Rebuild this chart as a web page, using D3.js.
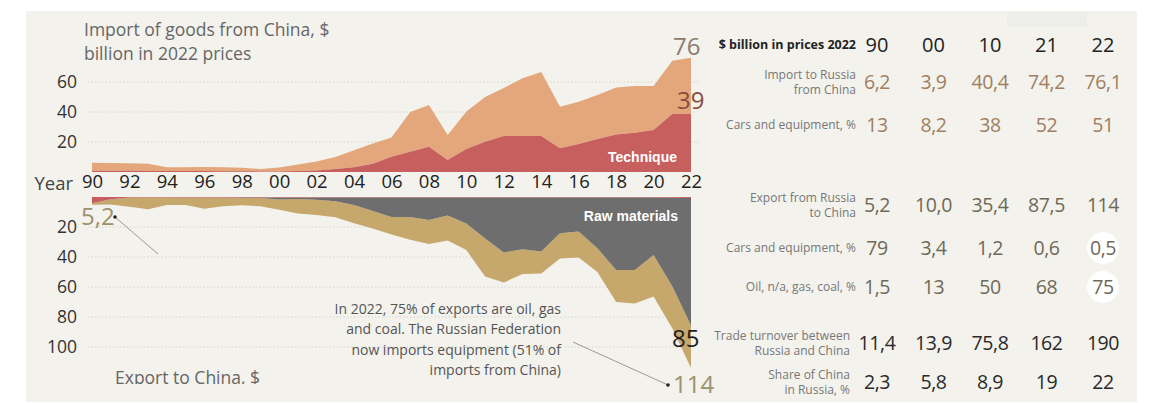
<!DOCTYPE html>
<html>
<head>
<meta charset="utf-8">
<script src="https://cdn.jsdelivr.net/npm/d3@7"></script>
<style>
  body { margin: 0; background: #fff; }
  svg { display: block; }
</style>
</head>
<body>
<div id="chart"></div>
<script>
'use strict';

// years on the time axis
var years = [1990, 1991, 1992, 1993, 1994, 1995, 1996, 1997, 1998, 1999, 2000,
             2001, 2002, 2003, 2004, 2005, 2006, 2007, 2008, 2009, 2010,
             2011, 2012, 2013, 2014, 2015, 2016, 2017, 2018, 2019, 2020, 2021, 2022];

// import from China, $ bn (2022 prices)
var importTotal = [6.2, 6.0, 5.8, 5.5, 3.2, 3.2, 3.3, 3.2, 2.8, 2.0, 3.0,
                   5.0, 7.0, 10.0, 14.5, 19.0, 23.0, 40.0, 44.7, 24.7, 40.4,
                   50.0, 56.0, 62.5, 66.7, 43.5, 46.9, 51.3, 56.4, 57.3, 57.3, 74.2, 76.1];
var importTech  = [0.8, 0.8, 0.8, 0.7, 0.6, 0.6, 0.6, 0.5, 0.5, 0.4, 0.3,
                   0.6, 1.0, 2.0, 3.2, 5.5, 10.2, 13.5, 16.9, 8.0, 15.4,
                   20.2, 24.0, 24.0, 24.0, 15.8, 18.7, 22.0, 25.0, 26.2, 28.0, 38.6, 38.8];

// export to China, $ bn (2022 prices)
var exportTotal = [5.2, 5.0, 6.5, 8.2, 5.3, 5.3, 7.8, 6.2, 5.5, 6.2, 8.5,
                   11.0, 12.0, 13.5, 17.5, 21.0, 25.0, 28.5, 31.3, 29.0, 35.4,
                   53.0, 57.0, 51.3, 51.0, 41.0, 40.4, 50.0, 70.0, 71.0, 66.4, 87.5, 114];
var exportMach  = [4.1, 1.5, 0.4, 0.3, 0.3, 0.3, 0.3, 0.3, 0.3, 0.3, 0.3,
                   0.3, 0.3, 0.3, 0.3, 0.3, 0.3, 0.3, 0.3, 0.3, 0.4,
                   0.4, 0.4, 0.4, 0.4, 0.4, 0.4, 0.4, 0.4, 0.4, 0.4, 0.5, 0.6];
var exportRaw   = [0.1, 0.1, 0.1, 0.1, 0.1, 0.2, 0.2, 0.2, 0.3, 0.4, 1.3,
                   1.0, 1.5, 2.5, 5.0, 9.0, 13.0, 13.0, 15.0, 12.0, 17.3,
                   27.2, 36.6, 34.5, 36.0, 23.8, 22.6, 33.8, 48.3, 48.3, 38.3, 59.0, 85.0];

var topTicks = [20, 40, 60];
var bottomTicks = [20, 40, 60, 80, 100];
var yearTicks = [1990, 1992, 1994, 1996, 1998, 2000, 2002, 2004, 2006, 2008, 2010,
                 2012, 2014, 2016, 2018, 2020, 2022];

// table on the right
var tableYears = ['90', '00', '10', '21', '22'];
var tableRows = [
  {label: ['Import to Russia', 'from China'], values: ['6,2', '3,9', '40,4', '74,2', '76,1'], kind: 'imp'},
  {label: ['Cars and equipment, %'], values: ['13', '8,2', '38', '52', '51'], kind: 'imp'},
  {label: ['Export from Russia', 'to China'], values: ['5,2', '10,0', '35,4', '87,5', '114'], kind: 'exp'},
  {label: ['Cars and equipment, %'], values: ['79', '3,4', '1,2', '0,6', '0,5'], kind: 'exp'},
  {label: ['Oil, n/a, gas, coal, %'], values: ['1,5', '13', '50', '68', '75'], kind: 'exp'},
  {label: ['Trade turnover between', 'Russia and China'], values: ['11,4', '13,9', '75,8', '162', '190'], kind: 'tot'},
  {label: ['Share of China', 'in Russia, %'], values: ['2,3', '5,8', '8,9', '19', '22'], kind: 'tot'}
];

var myApp = {};

myApp.w = 1151;
myApp.h = 403;
myApp.colors = {
  panel: '#f3f2ed', orange: '#e3a77b', red: '#c65f5e', gray: '#6e6e6e', gold: '#c6a76c',
  grid: '#d6d4ca', text: '#333', soft: '#6a6a6a'
};
myApp.numFont = '"Open Sans", sans-serif';
myApp.txtFont = '"Open Sans", sans-serif';

myApp.x = d3.scaleLinear().domain([1990, 2022]).range([92, 691]);
myApp.yTop = d3.scaleLinear().domain([0, 60]).range([172, 82]);
myApp.yBot = d3.scaleLinear().domain([0, 100]).range([197, 347]);

myApp.appendSvg = function(div)
{
    var svg = d3.select(div).append('svg')
        .attr('width', myApp.w)
        .attr('height', myApp.h);

    svg.append('defs').append('clipPath').attr('id', 'cut')
        .append('rect').attr('x', 0).attr('y', 0).attr('width', myApp.w).attr('height', 384);

    svg.append('rect')
        .attr('x', 26).attr('y', 11).attr('width', 1111).attr('height', 391)
        .style('fill', myApp.colors.panel);

    // faint patch near the top right
    svg.append('rect')
        .attr('x', 1007).attr('y', 12).attr('width', 80).attr('height', 15)
        .style('fill', '#ededea');

    return svg;
}

myApp.drawGrid = function(svg)
{
    var x = myApp.x;
    var top = svg.append('g').attr('class', 'grid-top');
    top.selectAll('line').data(topTicks).enter().append('line')
        .attr('x1', x(1990) - 4).attr('x2', x(2022) + 8)
        .attr('y1', function(d){ return myApp.yTop(d); })
        .attr('y2', function(d){ return myApp.yTop(d); })
        .style('stroke', myApp.colors.grid).style('stroke-width', 1)
        .style('stroke-dasharray', '1.5,2');

    var bot = svg.append('g').attr('class', 'grid-bottom');
    bot.selectAll('line').data(bottomTicks).enter().append('line')
        .attr('x1', x(1990) - 4).attr('x2', x(2022))
        .attr('y1', function(d){ return myApp.yBot(d); })
        .attr('y2', function(d){ return myApp.yBot(d); })
        .style('stroke', myApp.colors.grid).style('stroke-width', 1)
        .style('stroke-dasharray', '1.5,2');
}

myApp.drawAreas = function(svg)
{
    var x = myApp.x, yT = myApp.yTop, yB = myApp.yBot;
    var idx = years.map(function(d, i){ return i; });

    var areaTop = function(lo, hi){
        return d3.area()
            .x(function(i){ return x(years[i]); })
            .y0(function(i){ return yT(lo(i)); })
            .y1(function(i){ return yT(hi(i)); });
    };
    var areaBot = function(lo, hi){
        return d3.area()
            .x(function(i){ return x(years[i]); })
            .y0(function(i){ return yB(lo(i)); })
            .y1(function(i){ return yB(hi(i)); });
    };

    // import: technique at the bottom, the rest above
    svg.append('path').datum(idx)
        .attr('d', areaTop(function(i){ return importTech[i]; }, function(i){ return importTotal[i]; }))
        .style('fill', myApp.colors.orange);
    svg.append('path').datum(idx)
        .attr('d', areaTop(function(){ return 0; }, function(i){ return importTech[i]; }))
        .style('fill', myApp.colors.red);

    // export: machinery, raw materials, other
    var machRaw = function(i){ return exportMach[i] + exportRaw[i]; };
    svg.append('path').datum(idx)
        .attr('d', areaBot(machRaw, function(i){ return exportTotal[i]; }))
        .style('fill', myApp.colors.gold);
    svg.append('path').datum(idx)
        .attr('d', areaBot(function(i){ return exportMach[i]; }, machRaw))
        .style('fill', myApp.colors.gray);
    svg.append('path').datum(idx)
        .attr('d', areaBot(function(){ return 0; }, function(i){ return exportMach[i]; }))
        .style('fill', myApp.colors.red);
}

myApp.drawAxes = function(svg)
{
    var yearAxis = d3.axisBottom(myApp.x)
        .tickValues(yearTicks)
        .tickSize(0)
        .tickFormat(function(d){ return String(d).slice(2); });
    var gx = svg.append('g').attr('transform', 'translate(0,175)').call(yearAxis);
    gx.select('.domain').remove();
    gx.selectAll('text')
        .attr('dy', '0.71em').attr('y', 0)
        .style('font-family', myApp.numFont).style('font-size', '18.5px').style('fill', '#222');

    svg.append('text').attr('x', 73).attr('y', 184).attr('dy', '0.35em')
        .attr('text-anchor', 'end')
        .style('font-family', myApp.numFont).style('font-size', '18.5px').style('fill', '#444')
        .text('Year');

    var gl = svg.append('g').attr('transform', 'translate(77,0)')
        .call(d3.axisLeft(myApp.yTop).tickValues(topTicks).tickSize(0).tickPadding(0));
    var gb = svg.append('g').attr('transform', 'translate(77,0)')
        .call(d3.axisLeft(myApp.yBot).tickValues(bottomTicks).tickSize(0).tickPadding(0));
    [gl, gb].forEach(function(g){
        g.select('.domain').remove();
        g.selectAll('text')
            .style('font-family', myApp.numFont).style('font-size', '17.5px').style('fill', '#333');
    });
}

myApp.drawLabels = function(svg)
{
    var x = myApp.x;
    var title = svg.append('text')
        .style('font-family', myApp.txtFont).style('font-size', '17.5px').style('fill', '#666');
    title.append('tspan').attr('x', 84).attr('y', 36).text('Import of goods from China, $');
    title.append('tspan').attr('x', 84).attr('y', 60).text('billion in 2022 prices');

    svg.append('text').attr('x', 115).attr('y', 384)
        .attr('clip-path', 'url(#cut)')
        .style('font-family', myApp.txtFont).style('font-size', '17.5px').style('fill', '#666')
        .text('Export to China, $');

    svg.append('text').attr('x', 677).attr('y', 157).attr('dy', '0.35em').attr('text-anchor', 'end')
        .style('font-family', 'Arial, "Liberation Sans", sans-serif').style('font-weight', 'bold')
        .style('font-size', '14px').style('fill', '#fff').text('Technique');
    svg.append('text').attr('x', 678).attr('y', 216).attr('dy', '0.35em').attr('text-anchor', 'end')
        .style('font-family', 'Arial, "Liberation Sans", sans-serif').style('font-weight', 'bold')
        .style('font-size', '14px').style('fill', '#fff').text('Raw materials');

    var big = function(tx, ty, str, color){
        svg.append('text').attr('x', tx).attr('y', ty).attr('dy', '0.35em')
            .style('font-family', myApp.numFont).style('font-size', '24px').style('fill', color)
            .text(str);
    };
    big(x(2022) - 18, 47, '76', '#8c7b6c');
    big(x(2022) - 14, 101, '39', '#8b4a3e');
    big(x(2022) - 19, 339, '85', '#1e1e1e');
    big(x(2022) - 18, 385, '114', '#9b916c');
    big(81, 217, '5,2', '#9b916c');

    // leader lines
    svg.append('line').attr('x1', 115).attr('y1', 217).attr('x2', 158).attr('y2', 254)
        .style('stroke', '#999').style('stroke-width', 1);
    svg.append('circle').attr('cx', 115).attr('cy', 217).attr('r', 1.8).style('fill', '#222');
    svg.append('line').attr('x1', 573).attr('y1', 342).attr('x2', 668).attr('y2', 385)
        .style('stroke', '#999').style('stroke-width', 1);
    svg.append('circle').attr('cx', 668).attr('cy', 385).attr('r', 1.8).style('fill', '#222');

    var note = ['In 2022, 75% of exports are oil, gas', 'and coal. The Russian Federation',
                'now imports equipment (51% of', 'imports from China)'];
    svg.append('g').selectAll('text').data(note).enter().append('text')
        .attr('x', 561).attr('y', function(d, i){ return 309 + i * 20.5; }).attr('dy', '0.35em')
        .attr('text-anchor', 'end')
        .style('font-family', myApp.txtFont).style('font-size', '14px').style('fill', '#555')
        .text(function(d){ return d; });
}

myApp.drawTable = function(svg)
{
    var colX = d3.scalePoint().domain(tableYears).range([877, 1103]);
    var rowY = [82, 125, 205, 248, 287, 343, 382];
    var numColor = {imp: '#a07f62', exp: '#6f6a58', tot: '#2a2a2a'};

    // highlight circles in the last column
    [3, 4].forEach(function(r){
        svg.append('circle').attr('cx', colX('22')).attr('cy', rowY[r]).attr('r', 16)
            .style('fill', '#fff');
    });

    svg.append('text').attr('x', 856).attr('y', 45).attr('dy', '0.35em').attr('text-anchor', 'end')
        .style('font-family', myApp.txtFont).style('font-weight', 'bold').style('font-size', '12.5px')
        .style('fill', '#222').text('$ billion in prices 2022');

    svg.append('g').selectAll('text').data(tableYears).enter().append('text')
        .attr('x', function(d){ return colX(d); }).attr('y', 45).attr('dy', '0.35em')
        .attr('text-anchor', 'middle')
        .style('font-family', myApp.numFont).style('font-size', '20px').style('fill', '#222')
        .text(function(d){ return d; });

    tableRows.forEach(function(row, r){
        var y = rowY[r];
        var endX = row.kind === 'tot' ? 850 : 856;
        var lab = svg.append('g').attr('class', 'row-label');
        row.label.forEach(function(s, k){
            var off = row.label.length === 1 ? 0 : (k === 0 ? -7.5 : 7.5);
            lab.append('text').attr('text-anchor', 'end')
                .attr('x', endX).attr('y', y + off).attr('dy', '0.35em')
                .style('font-family', myApp.txtFont).style('font-size', '12px').style('fill', '#777')
                .text(s);
        });
        svg.append('g').selectAll('text').data(row.values).enter().append('text')
            .attr('x', function(d, i){ return colX(tableYears[i]); }).attr('y', y).attr('dy', '0.35em')
            .attr('text-anchor', 'middle')
            .style('font-family', myApp.numFont).style('font-size', '19.5px')
            .style('letter-spacing', '-0.4px')
            .style('fill', numColor[row.kind])
            .text(function(d){ return d; });
    });
}

myApp.run = function()
{
    var svg = myApp.appendSvg('#chart');
    myApp.drawGrid(svg);
    myApp.drawAreas(svg);
    myApp.drawAxes(svg);
    myApp.drawLabels(svg);
    myApp.drawTable(svg);
}

myApp.run();
</script>
</body>
</html>
